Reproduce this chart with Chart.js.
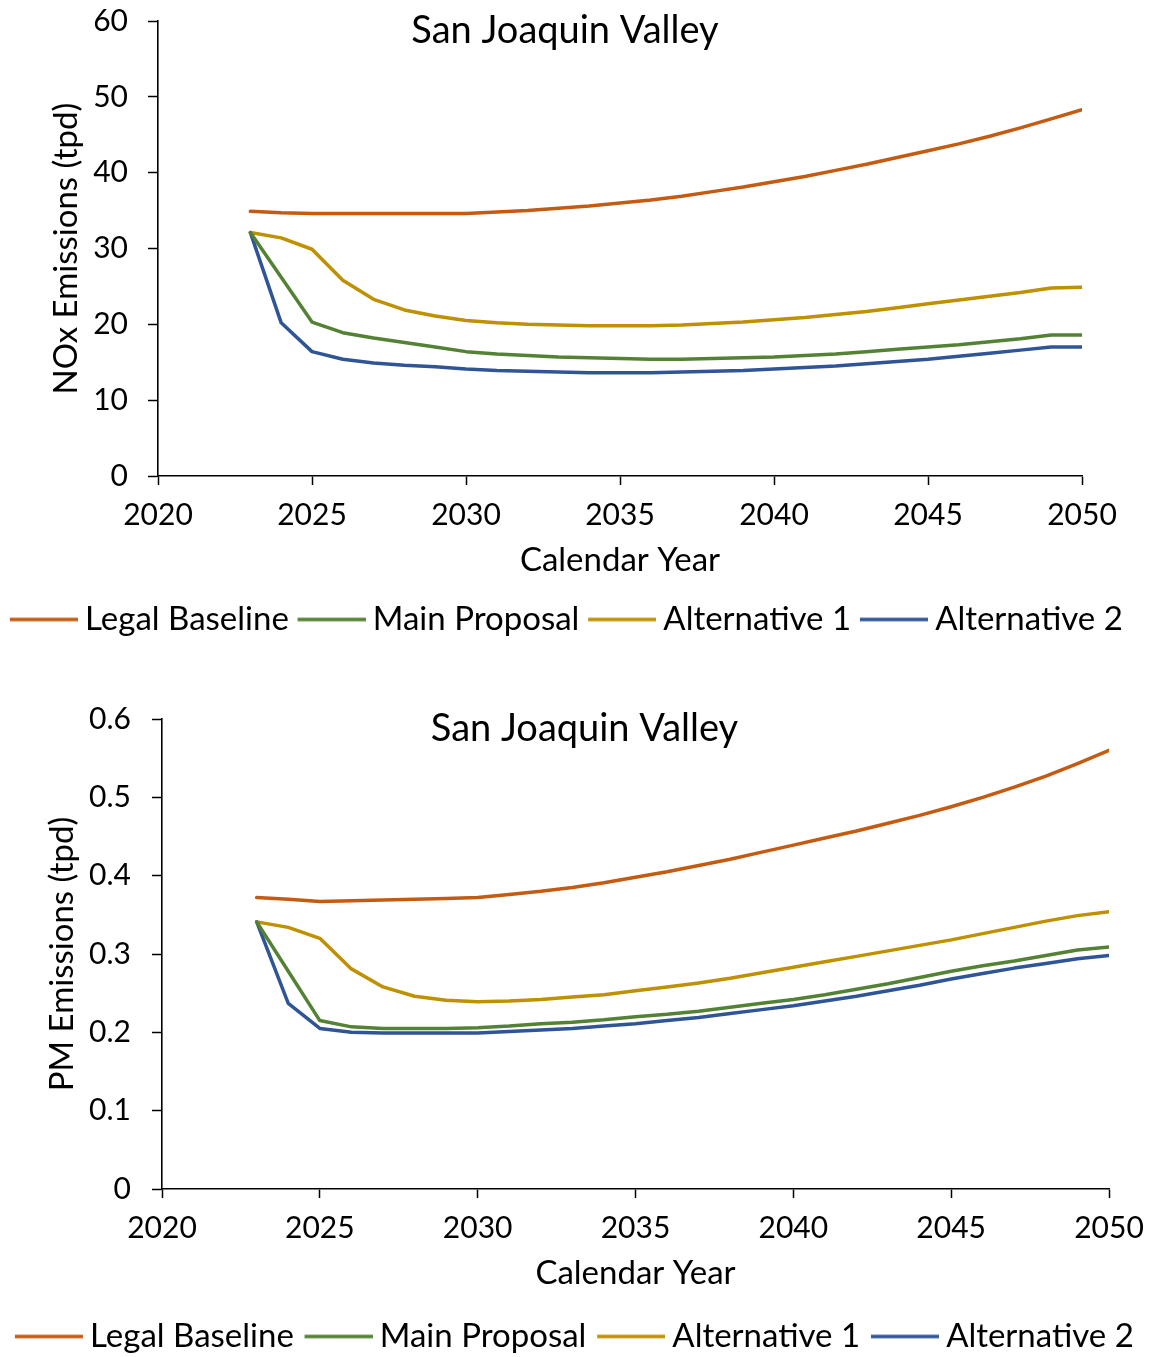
<!DOCTYPE html>
<html>
<head>
<meta charset="utf-8">
<title>San Joaquin Valley emissions</title>
<script src="https://cdn.jsdelivr.net/npm/chart.js@4/dist/chart.umd.min.js"></script>
<style>
  html, body { margin: 0; padding: 0; background: #fff; overflow: hidden; }
  #wrap { position: relative; width: 1150px; height: 1357px; }
  .panel { position: absolute; left: 0; width: 1150px; }
  #noxPanel { top: 0; height: 660px; }
  #pmPanel { top: 660px; height: 705px; }
</style>
</head>
<body>
<div id="wrap">
  <div class="panel" id="noxPanel"><canvas id="noxChart"></canvas></div>
  <div class="panel" id="pmPanel"><canvas id="pmChart"></canvas></div>
</div>
<script>
// Calendar years covered by the projections
const years = [2023, 2024, 2025, 2026, 2027, 2028, 2029, 2030, 2031, 2032, 2033, 2034, 2035, 2036,
               2037, 2038, 2039, 2040, 2041, 2042, 2043, 2044, 2045, 2046, 2047, 2048, 2049, 2050];

const seriesNames = ['Legal Baseline', 'Main Proposal', 'Alternative 1', 'Alternative 2'];

// NOx emissions, tons per day
const noxLegalBaseline = [34.9, 34.7, 34.6, 34.6, 34.6, 34.6, 34.6, 34.6, 34.8, 35.0, 35.3, 35.6, 36.0, 36.4,
                          36.9, 37.5, 38.1, 38.8, 39.5, 40.3, 41.1, 42.0, 42.9, 43.8, 44.8, 45.9, 47.1, 48.3];
const noxMainProposal = [32.1, 26.2, 20.3, 18.9, 18.2, 17.6, 17.0, 16.4, 16.1, 15.9, 15.7, 15.6, 15.5, 15.4,
                         15.4, 15.5, 15.6, 15.7, 15.9, 16.1, 16.4, 16.7, 17.0, 17.3, 17.7, 18.1, 18.6, 18.6];
const noxAlternative1 = [32.1, 31.4, 29.9, 25.8, 23.3, 21.9, 21.1, 20.5, 20.2, 20.0, 19.9, 19.8, 19.8, 19.8,
                         19.9, 20.1, 20.3, 20.6, 20.9, 21.3, 21.7, 22.2, 22.7, 23.2, 23.7, 24.2, 24.8, 24.9];
const noxAlternative2 = [32.1, 20.2, 16.4, 15.4, 14.9, 14.6, 14.4, 14.1, 13.9, 13.8, 13.7, 13.6, 13.6, 13.6,
                         13.7, 13.8, 13.9, 14.1, 14.3, 14.5, 14.8, 15.1, 15.4, 15.8, 16.2, 16.6, 17.0, 17.0];

// PM emissions, tons per day
const pmLegalBaseline = [0.372, 0.370, 0.367, 0.368, 0.369, 0.370, 0.371, 0.372, 0.376, 0.380, 0.385, 0.391, 0.398, 0.405,
                         0.413, 0.421, 0.430, 0.439, 0.448, 0.457, 0.467, 0.477, 0.488, 0.500, 0.513, 0.527, 0.543, 0.560];
const pmMainProposal = [0.341, 0.278, 0.215, 0.207, 0.205, 0.205, 0.205, 0.206, 0.208, 0.211, 0.213, 0.216, 0.220, 0.223,
                        0.227, 0.232, 0.237, 0.242, 0.248, 0.255, 0.262, 0.270, 0.278, 0.285, 0.291, 0.298, 0.305, 0.309];
const pmAlternative1 = [0.341, 0.334, 0.320, 0.281, 0.258, 0.246, 0.241, 0.239, 0.240, 0.242, 0.245, 0.248, 0.253, 0.258,
                        0.263, 0.269, 0.276, 0.283, 0.290, 0.297, 0.304, 0.311, 0.318, 0.326, 0.334, 0.342, 0.349, 0.354];
const pmAlternative2 = [0.341, 0.237, 0.205, 0.200, 0.199, 0.199, 0.199, 0.199, 0.201, 0.203, 0.205, 0.208, 0.211, 0.215,
                        0.219, 0.224, 0.229, 0.234, 0.240, 0.246, 0.253, 0.260, 0.268, 0.275, 0.282, 0.288, 0.294, 0.298];

// Axis ticks
const yearTicks = [2020, 2025, 2030, 2035, 2040, 2045, 2050];
const noxTicks = [0, 10, 20, 30, 40, 50, 60];
const pmTicks = ['0', '0.1', '0.2', '0.3', '0.4', '0.5', '0.6'];

const seriesColors = ['#C55A11', '#548235', '#BF9000', '#2F5597'];
const FONT = 'Lato, "Noto Sans", sans-serif';
const LINE_WIDTH = 3.5;

// Legend swatch: a short line segment, drawn on the right part of a small canvas
// so that it sits close to its label text.
const SWATCH_BOX = 57.5;   // legend box width reserved by Chart.js
const SWATCH_LINE = 68;    // visible length of the sample line
function lineSwatch(color) {
  const c = document.createElement('canvas');
  c.width = SWATCH_BOX + 19;
  c.height = 8;
  const g = c.getContext('2d');
  g.strokeStyle = color;
  g.lineWidth = LINE_WIDTH;
  g.beginPath();
  g.moveTo(c.width - SWATCH_LINE, 4);
  g.lineTo(c.width, 4);
  g.stroke();
  return c;
}

// Draws the panel heading on top of the plot area
const panelTitle = {
  id: 'panelTitle',
  afterDraw(chart, args, opts) {
    const { ctx, chartArea } = chart;
    ctx.save();
    ctx.font = `${opts.size}px ${FONT}`;
    ctx.fillStyle = '#000';
    ctx.textAlign = 'center';
    ctx.textBaseline = 'middle';
    ctx.fillText(opts.text, (chartArea.left + chartArea.right) / 2 + opts.dx, chartArea.top + opts.dy);
    ctx.restore();
  }
};

function buildDatasets(seriesList) {
  return seriesList.map((values, i) => ({
    label: seriesNames[i],
    data: years.map((yr, k) => ({ x: yr, y: values[k] })),
    borderColor: seriesColors[i],
    backgroundColor: seriesColors[i],
    borderWidth: LINE_WIDTH,
    borderJoinStyle: 'round',
    borderCapStyle: 'round',
    pointRadius: 0,
    pointStyle: lineSwatch(seriesColors[i]),
    tension: 0,
    fill: false,
    yAxisID: 'y'
  }));
}

function makeChart(id, cfg) {
  return new Chart(document.getElementById(id), {
    type: 'line',
    data: { datasets: buildDatasets(cfg.series) },
    plugins: [panelTitle],
    options: {
      responsive: true,
      maintainAspectRatio: false,
      animation: false,
      events: [],
      layout: { padding: cfg.padding },
      plugins: {
        tooltip: { enabled: false },
        title: { display: false },
        panelTitle: { text: 'San Joaquin Valley', size: 38, dx: cfg.titleDx, dy: 10 },
        legend: {
          position: 'bottom',
          labels: {
            usePointStyle: true,
            pointStyleWidth: SWATCH_BOX,
            padding: cfg.legendPad,
            color: '#000',
            font: { family: FONT, size: 33 }
          }
        }
      },
      scales: {
        x: {
          type: 'linear',
          min: 2020,
          max: 2050,
          afterBuildTicks: s => { s.ticks = yearTicks.map(v => ({ value: v })); },
          afterFit: s => { s.height = cfg.xAxisHeight; s.paddingLeft = 0; s.paddingRight = 0; },
          ticks: {
            padding: 12,
            color: '#000',
            font: { family: FONT, size: 30 },
            callback: v => String(v)
          },
          grid: { drawOnChartArea: false, tickLength: 9, tickColor: '#000', tickWidth: 1.5 },
          border: { color: '#000', width: 1.6 },
          title: {
            display: true,
            text: 'Calendar Year',
            color: '#000',
            font: { family: FONT, size: 33 },
            padding: { top: 0, bottom: cfg.xTitlePad }
          }
        },
        y: {
          min: 0,
          max: cfg.yMax,
          afterBuildTicks: s => { s.ticks = cfg.yTicks.map(v => ({ value: Number(v) })); },
          afterFit: s => { s.width = cfg.yAxisWidth; s.paddingTop = 0; s.paddingBottom = 0; },
          ticks: {
            padding: cfg.yTickPad,
            color: '#000',
            font: { family: FONT, size: 30 },
            callback: (v, i) => String(cfg.yTicks[i])
          },
          grid: { drawOnChartArea: false, tickLength: 10, tickColor: '#000', tickWidth: 1.5 },
          border: { color: '#000', width: 1.6 },
          title: {
            display: true,
            text: cfg.yTitle,
            color: '#000',
            font: { family: FONT, size: 33 },
            padding: { top: cfg.yTitlePad, bottom: 0 }
          }
        },
        // empty margin on the right of the plot; keeps the legend full width
        yMargin: {
          axis: 'y',
          position: 'right',
          min: 0,
          max: 1,
          ticks: { display: false },
          grid: { display: false },
          border: { display: false },
          afterFit: s => { s.width = cfg.rightMargin; s.paddingTop = 0; s.paddingBottom = 0; }
        }
      }
    }
  });
}

makeChart('noxChart', {
  series: [noxLegalBaseline, noxMainProposal, noxAlternative1, noxAlternative2],
  yMax: 60,
  yTicks: noxTicks,
  yTitle: 'NOx Emissions (tpd)',
  padding: { top: 21, right: 16, bottom: 14, left: 0 },
  rightMargin: 52,
  yAxisWidth: 158,
  yTickPad: 20,
  yTitlePad: 47,
  xAxisHeight: 117,
  xTitlePad: 13,
  legendPad: 10,
  titleDx: -55
});

makeChart('pmChart', {
  series: [pmLegalBaseline, pmMainProposal, pmAlternative1, pmAlternative2],
  yMax: 0.6,
  yTicks: pmTicks,
  yTitle: 'PM Emissions (tpd)',
  padding: { top: 59, right: 0, bottom: 2, left: 0 },
  rightMargin: 41,
  yAxisWidth: 162,
  yTickPad: 21,
  yTitlePad: 43,
  xAxisHeight: 119,
  xTitlePad: 15,
  legendPad: 12,
  titleDx: -51
});
</script>
</body>
</html>
